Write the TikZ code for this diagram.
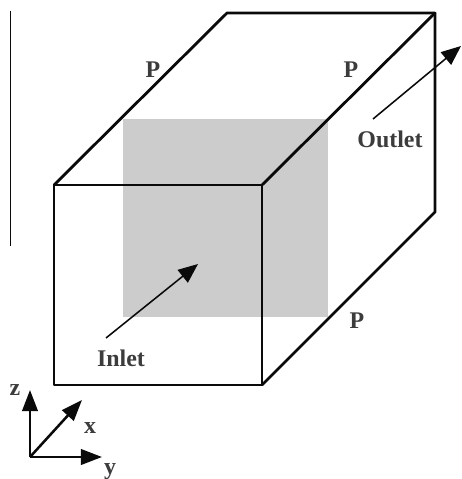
\documentclass[tikz,border=0pt]{standalone}
\usepackage{fontspec}
\setmainfont{Liberation Serif}
\usetikzlibrary{arrows.meta,positioning}
\definecolor{boxBlack}{HTML}{0A0A0A}
\definecolor{boxGray}{HTML}{CCCCCC}
\definecolor{boxText}{HTML}{3C3C3C}
\tikzset{
  boxedge/.style={line width=2pt,boxBlack,line join=round,line cap=round},
  boxflow/.style={-{Triangle[length=14pt,width=11.5pt]},line width=1.1pt,boxBlack},
  boxaxis/.style={-{Triangle[length=15pt,width=11pt]},line width=1.8pt,boxBlack},
  boxlabel/.style={font=\bfseries\fontsize{17}{19}\selectfont,text=boxText,inner sep=0pt}
}
\begin{document}
\begin{tikzpicture}[x=0.025cm,y=-0.025cm]
    \useasboundingbox (0,0) rectangle (461,479);

    % shaded section
    \coordinate (secnw) at (123,119);
    \coordinate (secse) at (328,317);
    \fill[boxGray] (secnw) rectangle (secse);

    % box corners
    \coordinate (fnw) at (54,185);
    \coordinate (fne) at (262,185);
    \coordinate (fse) at (262,385);
    \coordinate (fsw) at (54,385);
    \coordinate (bnw) at (227,13);
    \coordinate (bne) at (435,13);
    \coordinate (bse) at (435,212);
    \draw[boxedge] (fnw) -- (fne) -- (fse) -- (fsw) -- cycle;
    \draw[boxedge] (fnw) -- (bnw) -- (bne) -- (bse) -- (fse);
    \draw[boxedge] (fne) -- (bne);

    % thin rule on the left
    \coordinate (ruletop) at (10.5,11);
    \coordinate (rulebot) at (10.5,246);
    \draw[line width=0.8pt,boxBlack] (ruletop) -- (rulebot);

    % flow arrows
    \coordinate (inA) at (106,338);
    \coordinate (inB) at (198,264);
    \coordinate (outA) at (373,119);
    \coordinate (outB) at (461,46);
    \draw[boxflow] (inA) -- (inB);
    \draw[boxflow] (outA) -- (outB);

    \node[boxlabel] (inlet) at (121,358) {Inlet};
    \node[boxlabel] (outlet) at (390,139) {Outlet};
    \node[boxlabel] (p1) at (153,70) {P};
    \node[boxlabel] (p2) at (351,70) {P};
    \node[boxlabel] (p3) at (357,321) {P};

    % axes
    \coordinate (orig) at (30,457);
    \coordinate (ztip) at (30,390);
    \coordinate (xtip) at (82,400);
    \coordinate (ytip) at (102,457);
    \draw[boxaxis] (orig) -- (ztip);
    \draw[boxaxis] (orig) -- (xtip);
    \draw[boxaxis] (orig) -- (ytip);
    \node[boxlabel] (zlab) at (15,390) {z};
    \node[boxlabel] (xlab) at (90,428) {x};
    \node[boxlabel] (ylab) at (110,472) {y};
\end{tikzpicture}
\end{document}
